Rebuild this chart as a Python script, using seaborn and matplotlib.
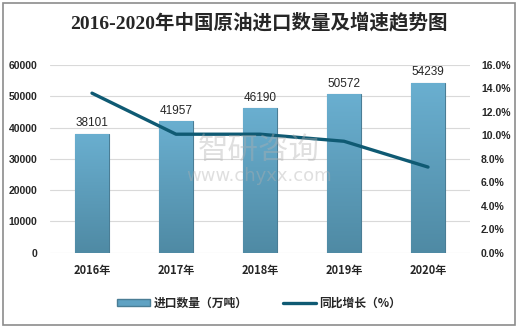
import matplotlib
matplotlib.use("Agg")
import matplotlib.pyplot as plt
import seaborn as sns
import numpy as np
import pandas as pd
from matplotlib.patches import Rectangle, Patch
from matplotlib.lines import Line2D
from matplotlib.colors import LinearSegmentedColormap

years = ["2016年", "2017年", "2018年", "2019年", "2020年"]
imports = [38101, 41957, 46190, 50572, 54239]
growth = [13.6, 10.1, 10.1, 9.5, 7.3]
left_ticks = [0, 10000, 20000, 30000, 40000, 50000, 60000]
right_ticks = [0, 2, 4, 6, 8, 10, 12, 14, 16]

sns.set_theme(style="white")
plt.rcParams['font.family'] = ['Noto Sans CJK SC', 'DejaVu Sans']

W, H = 518, 328
fig = plt.figure(figsize=(W / 100, H / 100), dpi=100)
fig.patches.append(Rectangle((3 / W, 3 / H), 512 / W, 322 / H, transform=fig.transFigure,
                             fill=False, edgecolor="#8c8c8c", linewidth=1.2))

ax = fig.add_axes([50 / W, 1 - 252.7 / H, 420 / W, (252.7 - 65) / H])
df = pd.DataFrame({"year": years, "imports": imports})
sns.barplot(data=df, x="year", y="imports", ax=ax, color="#5fa2c3", width=0.4,
            edgecolor="#4a7d95", linewidth=0.8, saturation=1, zorder=3)
ax.set_yticks(left_ticks)
ax.set_yticklabels([str(t) for t in left_ticks], fontsize=7.5, fontweight="bold",
                   family=["Liberation Sans"])
ax.tick_params(axis="y", length=0, pad=9)
ax.tick_params(axis="x", length=0, pad=8)
for lab in ax.get_xticklabels():
    lab.set_fontweight("bold")
    lab.set_fontsize(8)
ax.set_xlabel("")
ax.set_ylabel("")
ax.grid(axis="y", color="#d9d9d9", linewidth=0.8, zorder=0)
for s in ax.spines.values():
    s.set_visible(False)

grad = np.linspace(0, 1, 256).reshape(-1, 1)
cmap = LinearSegmentedColormap.from_list("g", ["#4f8aa4", "#6aafd0"])
for p in list(ax.patches):
    x0, y0 = p.get_x(), p.get_y()
    w, h = p.get_width(), p.get_height()
    im = ax.imshow(grad, extent=[x0, x0 + w, y0, y0 + h], origin="lower", cmap=cmap,
                   aspect="auto", zorder=3.5)
    im.set_clip_path(p)
    ax.text(x0 + w / 2, h + 1500, str(int(h)), ha="center", va="bottom", fontsize=8.5,
            family=["Liberation Sans"], zorder=6)
ax.set_xlim(-0.5, 4.5)
ax.set_ylim(0, 60000)

ax2 = ax.twinx()
sns.lineplot(x=list(range(len(years))), y=growth, ax=ax2, color="#0f5a73", linewidth=2.4,
             zorder=5)
ax2.set_ylim(0, 16)
ax2.set_xlim(-0.5, 4.5)
ax2.set_yticks(right_ticks)
ax2.set_yticklabels([f"{t:.1f}%" for t in right_ticks], fontsize=7.5, fontweight="bold",
                    family=["Liberation Sans"])
ax2.tick_params(axis="y", length=0, pad=8)
for s in ax2.spines.values():
    s.set_visible(False)
ax2.grid(False)

fig.text(0.5, 1 - 22 / H, "2016-2020年中国原油进口数量及增速趋势图", ha="center", va="center",
         fontsize=14, fontweight="bold", family=["Liberation Serif", "Noto Sans CJK SC"])

fig.text(0.5, 1 - 150 / H, "智研咨询", ha="center", va="center", fontsize=22,
         color="#b0b0b0", alpha=0.4, zorder=10)
fig.text(0.5, 1 - 176 / H, "www.chyxx.com", ha="center", va="center", fontsize=13,
         color="#b0b0b0", alpha=0.4, zorder=10, family=["DejaVu Sans"])

handles = [Patch(facecolor="#5fa2c3", edgecolor="#4a7d95"),
           Line2D([0], [0], color="#0f5a73", linewidth=2.4)]
fig.legend(handles, ["进口数量（万吨）", "同比增长（%）"], loc="center",
           bbox_to_anchor=(0.5, 1 - 303 / H), ncol=2, frameon=False,
           prop={"size": 8.5, "weight": "bold", "family": ["Noto Sans CJK SC", "DejaVu Sans"]},
           handlelength=2.8, handleheight=0.5, columnspacing=3.0, handletextpad=0.3)

fig.savefig("out.png", dpi=100)
